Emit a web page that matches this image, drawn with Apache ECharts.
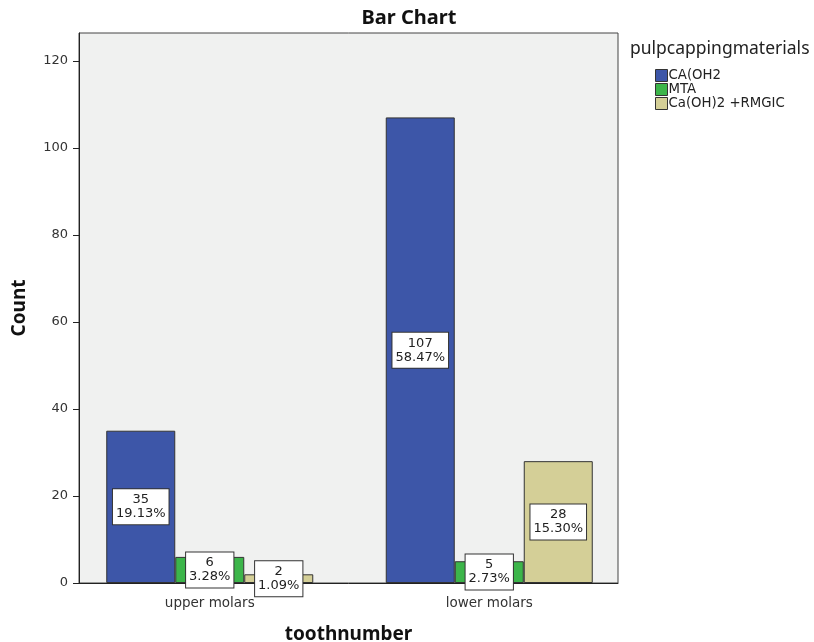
<!DOCTYPE html>
<html><head><meta charset="utf-8">
<script src="https://cdn.jsdelivr.net/npm/echarts@6/dist/echarts.min.js"></script>
<style>html,body{margin:0;padding:0;background:#fff}#c{width:814px;height:642px}</style>
</head><body><div id="c"></div>
<script>
var categories = ['upper molars', 'lower molars'];
var seriesNames = ['CA(OH2', 'MTA', 'Ca(OH)2 +RMGIC'];
var caoh2 = [35, 107];
var mta = [6, 5];
var rmgic = [2, 28];
var caoh2Pct = ['19.13%', '58.47%'];
var mtaPct = ['3.28%', '2.73%'];
var rmgicPct = ['1.09%', '15.30%'];
var colors = ['#3d56a8', '#3cb54a', '#d4cf97'];
var yTicks = [0, 20, 40, 60, 80, 100, 120];

var chart = echarts.init(document.getElementById('c'));
var font = 'DejaVu Sans';
var titleFont = 'Noto Sans';
function mkSeries(name, vals, pcts, color) {
  return {
    name: name, type: 'bar', data: vals, barGap: '0%', barWidth: 69,
    xAxisIndex: 1, yAxisIndex: 1,
    itemStyle: { color: color, borderColor: '#333', borderWidth: 1 },
    label: {
      show: true, position: 'inside', color: '#222', fontFamily: font, fontSize: 13,
      lineHeight: 14, backgroundColor: '#fff', borderColor: '#333', borderWidth: 1,
      padding: [4, 3, 3, 3],
      formatter: function (p) { return vals[p.dataIndex] + '\n' + pcts[p.dataIndex]; }
    }
  };
}
var yCommon = { type: 'value', min: 0, max: 126.4, interval: 20 };
chart.setOption({
  animation: false,
  title: { text: 'Bar Chart', left: 404, top: 3, textAlign: 'center',
    textStyle: { fontFamily: titleFont, fontWeight: 'bold', fontSize: 20, color: '#111' } },
  grid: [
    { left: 79, right: 196, top: 33, bottom: 59, outerBoundsMode: 'none', containLabel: false,
      show: true, backgroundColor: '#f0f1f0', borderColor: '#444', borderWidth: 1 },
    { left: 70, right: 185, top: 33, bottom: 59, outerBoundsMode: 'none', containLabel: false }
  ],
  legend: {
    orient: 'vertical', left: 655, top: 69, padding: 0, itemWidth: 12, itemHeight: 12, itemGap: 1,
    icon: 'rect', data: seriesNames,
    itemStyle: { borderColor: '#333', borderWidth: 1 },
    textStyle: { fontFamily: font, fontSize: 13.3, lineHeight: 13, color: '#222', padding: [0, 0, 0, -4] }
  },
  graphic: [{ type: 'text', left: 630, top: 40,
    style: { text: 'pulpcappingmaterials', font: '17.5px "Noto Sans"', fill: '#222' } }],
  xAxis: [
    { type: 'category', data: categories, gridIndex: 0, show: true,
      name: 'toothnumber', nameLocation: 'middle', nameGap: 42,
      nameTextStyle: { fontFamily: titleFont, fontWeight: 'bold', fontSize: 19, color: '#111' },
      axisLine: { lineStyle: { color: '#222' } }, axisTick: { show: false }, axisLabel: { show: false } },
    { type: 'category', data: categories, gridIndex: 1,
      axisLine: { show: false },
      axisTick: { alignWithLabel: true, length: 4, lineStyle: { color: '#222' } },
      axisLabel: { fontFamily: font, fontSize: 13.5, color: '#333', margin: 13 } }
  ],
  yAxis: [
    Object.assign({}, yCommon, { gridIndex: 0,
      name: 'Count', nameLocation: 'middle', nameGap: 50, nameRotate: 90,
      nameTextStyle: { fontFamily: titleFont, fontWeight: 'bold', fontSize: 19, color: '#111' },
      axisLine: { show: true, lineStyle: { color: '#222' } },
      axisTick: { show: true, length: 6, lineStyle: { color: '#222' } },
      splitLine: { show: false },
      axisLabel: { fontFamily: font, fontSize: 13, color: '#333', margin: 11, showMaxLabel: false,
        formatter: function (v) { return yTicks.indexOf(v) >= 0 ? String(v) : ''; } } }),
    Object.assign({}, yCommon, { gridIndex: 1, show: false, splitLine: { show: false } })
  ],
  series: [
    mkSeries(seriesNames[0], caoh2, caoh2Pct, colors[0]),
    mkSeries(seriesNames[1], mta, mtaPct, colors[1]),
    mkSeries(seriesNames[2], rmgic, rmgicPct, colors[2])
  ]
});
</script></body></html>
